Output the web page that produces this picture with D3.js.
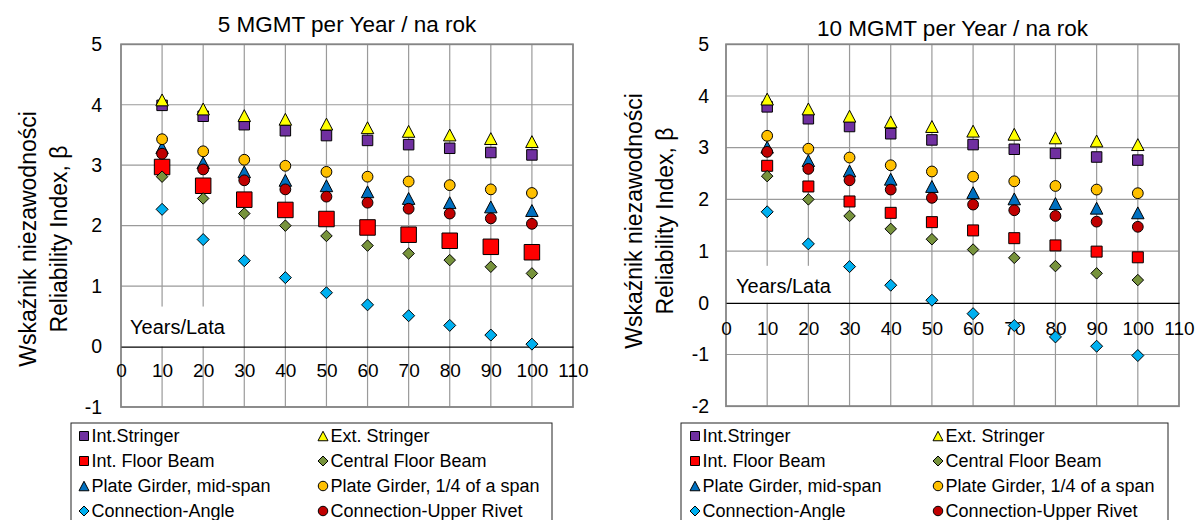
<!DOCTYPE html>
<html>
<head>
<meta charset="utf-8">
<script src="https://cdn.jsdelivr.net/npm/d3@7"></script>
<style>
  body { margin: 0; background: #fff; }
  svg { display: block; }
  text { font-family: "Liberation Sans", Arial, sans-serif; fill: #000; }
</style>
</head>
<body>
<svg id="chart" width="1197" height="520"></svg>
<script>
// ---- data -------------------------------------------------------------
const years = [10, 20, 30, 40, 50, 60, 70, 80, 90, 100];
const seriesNames = [
  "Int.Stringer", "Ext. Stringer",
  "Int. Floor Beam", "Central Floor Beam",
  "Plate Girder, mid-span", "Plate Girder, 1/4 of a span",
  "Connection-Angle", "Connection-Upper Rivet"
];
const xTicks = [0, 10, 20, 30, 40, 50, 60, 70, 80, 90, 100, 110];
const yTicks5 = [-1, 0, 1, 2, 3, 4, 5];
const yTicks10 = [-2, -1, 0, 1, 2, 3, 4, 5];

// 5 MGMT per year
const intStringer5      = [3.99, 3.81, 3.67, 3.57, 3.49, 3.41, 3.34, 3.28, 3.21, 3.17];
const extStringer5      = [4.08, 3.93, 3.82, 3.76, 3.68, 3.62, 3.56, 3.50, 3.44, 3.39];
const intFloorBeam5     = [2.97, 2.66, 2.43, 2.26, 2.11, 1.97, 1.85, 1.75, 1.65, 1.56];
const centralFloorBeam5 = [2.81, 2.45, 2.20, 2.00, 1.83, 1.67, 1.54, 1.43, 1.32, 1.21];
const plateMid5         = [3.29, 3.04, 2.89, 2.75, 2.66, 2.56, 2.45, 2.38, 2.31, 2.25];
const plateQuarter5     = [3.43, 3.23, 3.09, 2.99, 2.89, 2.81, 2.73, 2.67, 2.60, 2.54];
const connAngle5        = [2.27, 1.77, 1.42, 1.14, 0.89, 0.69, 0.51, 0.35, 0.19, 0.04];
const connRivet5        = [3.19, 2.93, 2.75, 2.60, 2.48, 2.38, 2.28, 2.20, 2.12, 2.03];

// 10 MGMT per year
const intStringer10      = [3.79, 3.56, 3.41, 3.27, 3.15, 3.06, 2.97, 2.89, 2.82, 2.76];
const extStringer10      = [3.94, 3.75, 3.61, 3.50, 3.41, 3.32, 3.26, 3.19, 3.13, 3.06];
const intFloorBeam10     = [2.65, 2.25, 1.96, 1.74, 1.56, 1.40, 1.25, 1.11, 0.99, 0.88];
const centralFloorBeam10 = [2.45, 2.00, 1.68, 1.43, 1.23, 1.03, 0.87, 0.71, 0.57, 0.44];
const plateMid10         = [3.01, 2.75, 2.55, 2.39, 2.25, 2.13, 2.01, 1.92, 1.83, 1.74];
const plateQuarter10     = [3.23, 2.98, 2.81, 2.66, 2.54, 2.44, 2.35, 2.26, 2.19, 2.12];
const connAngle10        = [1.76, 1.14, 0.70, 0.34, 0.05, -0.21, -0.44, -0.66, -0.84, -1.02];
const connRivet10        = [2.92, 2.59, 2.37, 2.19, 2.03, 1.90, 1.79, 1.68, 1.57, 1.47];

// ---- marker styles (one per series, in series order) -------------------
const markerStyles = [
  { shape: "square",   fill: "#7030A0" },
  { shape: "triangle", fill: "#FFFF00" },
  { shape: "square",   fill: "#FF0000" },
  { shape: "diamond",  fill: "#77933C" },
  { shape: "triangle", fill: "#0070C0" },
  { shape: "circle",   fill: "#FFC000" },
  { shape: "diamond",  fill: "#00B0F0" },
  { shape: "circle",   fill: "#C00000" }
];

function markerPath(shape, s) {
  if (shape === "square") return `M${-s/2},${-s/2}h${s}v${s}h${-s}Z`;
  if (shape === "triangle") { const h = s * 0.95; return `M0,${-h/2}L${s/2},${h/2}L${-s/2},${h/2}Z`; }
  if (shape === "diamond") return `M0,${-s/2}L${s/2},0L0,${s/2}L${-s/2},0Z`;
  const r = s / 2;
  return `M${r},0A${r},${r} 0 1,1 ${-r},0A${r},${r} 0 1,1 ${r},0Z`;
}

// plain integers with a hyphen-minus
const tickFmt = d => String(d);

const svg = d3.select("#chart");

function drawPanel(p) {
  const x = d3.scaleLinear().domain([0, 110]).range([p.left, p.right]);
  const y = d3.scaleLinear().domain(p.yDomain).range([p.bottom, p.top]);
  const g = svg.append("g");

  // grid
  g.append("g").selectAll("line").data(xTicks.slice(1, -1)).join("line")
    .attr("x1", d => x(d)).attr("x2", d => x(d))
    .attr("y1", p.top).attr("y2", p.bottom)
    .attr("stroke", "#9a9a9a").attr("stroke-width", 1.2);
  g.append("g").selectAll("line").data(p.yTicks.filter(d => d !== 0)).join("line")
    .attr("x1", p.left).attr("x2", p.right)
    .attr("y1", d => y(d)).attr("y2", d => y(d))
    .attr("stroke", "#9a9a9a").attr("stroke-width", 1.2);

  // plot frame
  g.append("rect").attr("x", p.left).attr("y", p.top)
    .attr("width", p.right - p.left).attr("height", p.bottom - p.top)
    .attr("fill", "none").attr("stroke", "#858585").attr("stroke-width", 1.8);

  // text box with the axis name
  g.append("rect").attr("x", x(1.5)).attr("y", y(0) - p.boxH)
    .attr("width", x(27) - x(1.5)).attr("height", p.boxH)
    .attr("fill", "#fff");
  g.append("text").attr("x", p.labelX).attr("y", y(0) - p.labelGap)
    .style("font-size", "20px").text("Years/Lata");

  // horizontal axis at zero
  const xAxis = d3.axisBottom(x).tickValues(xTicks).tickFormat(tickFmt).tickSize(0).tickPadding(p.xPad);
  const xa = g.append("g").attr("transform", `translate(0,${y(0)})`).call(xAxis);
  xa.attr("font-family", null);
  xa.select(".domain").attr("stroke", "#000").attr("stroke-width", 1.2);
  xa.selectAll("text").style("font-size", "19px");

  // vertical axis labels
  const yAxis = d3.axisLeft(y).tickValues(p.yTicks).tickFormat(tickFmt).tickSize(0).tickPadding(p.yPad);
  const ya = g.append("g").attr("transform", `translate(${p.left},0)`).call(yAxis);
  ya.attr("font-family", null);
  ya.select(".domain").remove();
  ya.selectAll("text").style("font-size", "19.5px");

  // title
  g.append("text").attr("x", (p.left + p.right) / 2).attr("y", p.titleY)
    .attr("text-anchor", "middle").style("font-size", "22.5px").text(p.title);

  // axis title (two lines)
  [["Wskaźnik niezawodności", p.yt1], ["Reliability Index, β", p.yt2]].forEach(([t, bx]) => {
    g.append("text").attr("transform", `translate(${bx},${p.ytCenter}) rotate(-90)`)
      .attr("text-anchor", "middle").style("font-size", "23px").text(t);
  });

  // markers, series drawn in order
  p.series.forEach((vals, i) => {
    const st = markerStyles[i];
    const size = p.sizes[i];
    g.append("g").selectAll("path").data(vals).join("path")
      .attr("transform", (v, j) => `translate(${x(years[j])},${y(v)})`)
      .attr("d", markerPath(st.shape, size))
      .attr("fill", st.fill).attr("stroke", "#000").attr("stroke-width", 1);
  });

  // legend
  const lg = svg.append("g");
  lg.append("rect").attr("x", p.legX).attr("y", 423)
    .attr("width", p.legW).attr("height", 120)
    .attr("fill", "#fff").attr("stroke", "#222").attr("stroke-width", 1);
  seriesNames.forEach((name, i) => {
    const col = i % 2, row = Math.floor(i / 2);
    const cy = 436 + row * 25;
    const mx = col === 0 ? p.legM1 : p.legM2;
    const st = markerStyles[i];
    const ms = st.shape === "circle" ? 9.5 : (st.shape === "square" ? 9 : 10);
    lg.append("path").attr("transform", `translate(${mx},${cy})`)
      .attr("d", markerPath(st.shape, ms))
      .attr("fill", st.fill).attr("stroke", "#000").attr("stroke-width", 1);
    lg.append("text").attr("x", mx + 7.5).attr("y", cy + 6.2)
      .style("font-size", "18px").text(name);
  });
}

drawPanel({
  title: "5 MGMT per Year / na rok",
  left: 121, right: 573, top: 44.3, bottom: 407, yDomain: [-1, 5], yTicks: yTicks5,
  titleY: 32, yt1: 36, yt2: 67, ytCenter: 239,
  xPad: 17, yPad: 19, boxH: 40, labelX: 130, labelGap: 13,
  series: [intStringer5, extStringer5, intFloorBeam5, centralFloorBeam5,
           plateMid5, plateQuarter5, connAngle5, connRivet5],
  sizes: [10.5, 12.5, 15.5, 11.5, 12.5, 10.8, 12, 10.8],
  legX: 71, legW: 481, legM1: 84, legM2: 323
});

drawPanel({
  title: "10 MGMT per Year / na rok",
  left: 726, right: 1179, top: 44.3, bottom: 406.2, yDomain: [-2, 5], yTicks: yTicks10,
  titleY: 36, yt1: 642, yt2: 673, ytCenter: 221,
  xPad: 19, yPad: 17, boxH: 37, labelX: 736, labelGap: 10,
  series: [intStringer10, extStringer10, intFloorBeam10, centralFloorBeam10,
           plateMid10, plateQuarter10, connAngle10, connRivet10],
  sizes: [10.5, 12.5, 11, 11.5, 12.5, 10.8, 12, 10.8],
  legX: 681, legW: 487, legM1: 695, legM2: 938
});
</script>
</body>
</html>
